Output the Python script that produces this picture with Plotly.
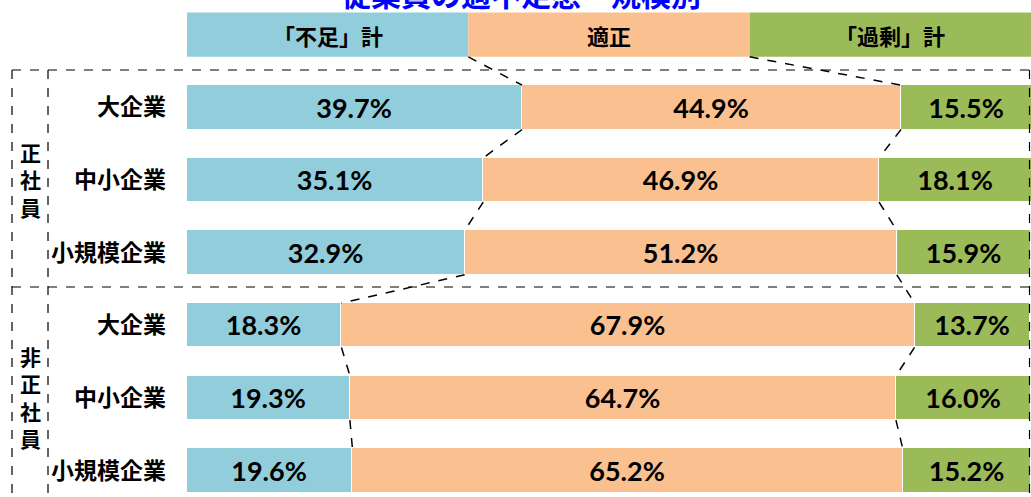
import numpy as np
import plotly.graph_objects as go

# ---- data ----
title_text = "従業員の過不足感・規模別"
series_names = ["「不足」計", "適正", "「過剰」計"]
row_labels = ["大企業", "中小企業", "小規模企業", "大企業", "中小企業", "小規模企業"]
group_labels = ["正社員", "非正社員"]
shortage = [39.7, 35.1, 32.9, 18.3, 19.3, 19.6]
adequate = [44.9, 46.9, 51.2, 67.9, 64.7, 65.2]
surplus = [15.5, 18.1, 15.9, 13.7, 16.0, 15.2]

colors = ["#92CDDC", "#FAC090", "#9BBB59"]

W, H = 1031, 497
ML, MR, MT, MB = 187, 0, 2, 1
PW, PH = W - ML - MR, H - MT - MB
Y_TOP, Y_BOT = -0.45, 6.35
BAR_W = 0.61


def py(px):  # pixel y -> paper y
    return 1 - (px - MT) / PH


def px_x(px):  # pixel x -> paper x
    return (px - ML) / PW


ypos = list(range(1, 7))
fig = go.Figure()
for name, vals, col in zip(series_names, [shortage, adequate, surplus], colors):
    fig.add_trace(go.Bar(
        y=ypos, x=vals, orientation="h", name=name, width=BAR_W,
        marker=dict(color=col, line=dict(color="white", width=1)),
        text=[f"{v:.1f}%" for v in vals], textposition="inside",
        insidetextanchor="middle", constraintext="none", textangle=0,
        textfont=dict(family="Lato", size=27, color="black", weight="bold"),
        hoverinfo="skip", showlegend=False,
    ))

shapes = []
annotations = []

# header (legend) boxes
hdr_edges = [0, 100 / 3, 200 / 3, 100]
for i, (name, col) in enumerate(zip(series_names, colors)):
    shapes.append(dict(type="rect", xref="x", yref="y", x0=hdr_edges[i], x1=hdr_edges[i + 1],
                       y0=-BAR_W / 2, y1=BAR_W / 2, fillcolor=col, line=dict(width=0), layer="below"))
    annotations.append(dict(x=(hdr_edges[i] + hdr_edges[i + 1]) / 2, y=0, xref="x", yref="y",
                            xanchor="center", yanchor="middle",
                            text=f"<b>{name}</b>", showarrow=False,
                            font=dict(family="Noto Sans CJK JP", size=22, color="black")))

# connector lines
cum = np.cumsum(np.array([shortage, adequate, surplus]).T, axis=1)
bounds = [np.array(hdr_edges[1:3])] + [cum[r, :2] for r in range(6)]
for r in range(6):
    for k in range(2):
        shapes.append(dict(type="line", xref="x", yref="y",
                           x0=bounds[r][k], y0=r + BAR_W / 2,
                           x1=bounds[r + 1][k], y1=r + 1 - BAR_W / 2,
                           line=dict(color="black", width=1.5, dash="dash")))

# dashed group boxes
dline = dict(color="black", width=1.2, dash="dash")
xl, xi, xr = px_x(12), px_x(48), px_x(1029.5)
ytop, ymid, ybot = py(70), py(287), py(H + 5)
shapes += [
    dict(type="line", xref="paper", yref="paper", x0=xl, x1=xr, y0=ytop, y1=ytop, line=dline),
    dict(type="line", xref="paper", yref="paper", x0=xl, x1=xr, y0=ymid, y1=ymid, line=dline),
    dict(type="line", xref="paper", yref="paper", x0=xl, x1=xl, y0=ytop, y1=ybot, line=dline),
    dict(type="line", xref="paper", yref="paper", x0=xi, x1=xi, y0=ytop, y1=ybot, line=dline),
    dict(type="line", xref="paper", yref="paper", x0=xr, x1=xr, y0=ytop, y1=ybot, line=dline),
]

# vertical group labels
for label, cy in zip(group_labels, [179, 397]):
    annotations.append(dict(x=px_x(30), y=py(cy), xref="paper", yref="paper",
                            xanchor="center", yanchor="middle",
                            text="<b>" + "<br>".join(label) + "</b>", showarrow=False,
                            font=dict(family="Noto Sans CJK JP", size=21, color="black")))

# title (cut off at top)
annotations.append(dict(x=px_x(521), y=py(-7), xref="paper", yref="paper",
                        xanchor="center", yanchor="middle",
                        text=f"<b>{title_text}</b>", showarrow=False,
                        font=dict(family="Noto Sans CJK JP", size=30, color="#0000FF")))

fig.update_layout(
    width=W, height=H, barmode="stack", bargap=0,
    margin=dict(l=ML, r=MR, t=MT, b=MB, pad=0),
    paper_bgcolor="white", plot_bgcolor="white",
    xaxis=dict(range=[0, 100], visible=False, fixedrange=True),
    yaxis=dict(range=[Y_BOT, Y_TOP], tickvals=ypos, ticktext=[f"<b>{t}</b>" for t in row_labels],
               showgrid=False, zeroline=False, showline=False, ticks="",
               ticklabelstandoff=20,
               tickfont=dict(family="Noto Sans CJK JP", size=23, color="black")),
    shapes=shapes, annotations=annotations,
)

fig.write_html("out.html", config={"displayModeBar": False},
               post_script="document.body.style.margin='0';")
